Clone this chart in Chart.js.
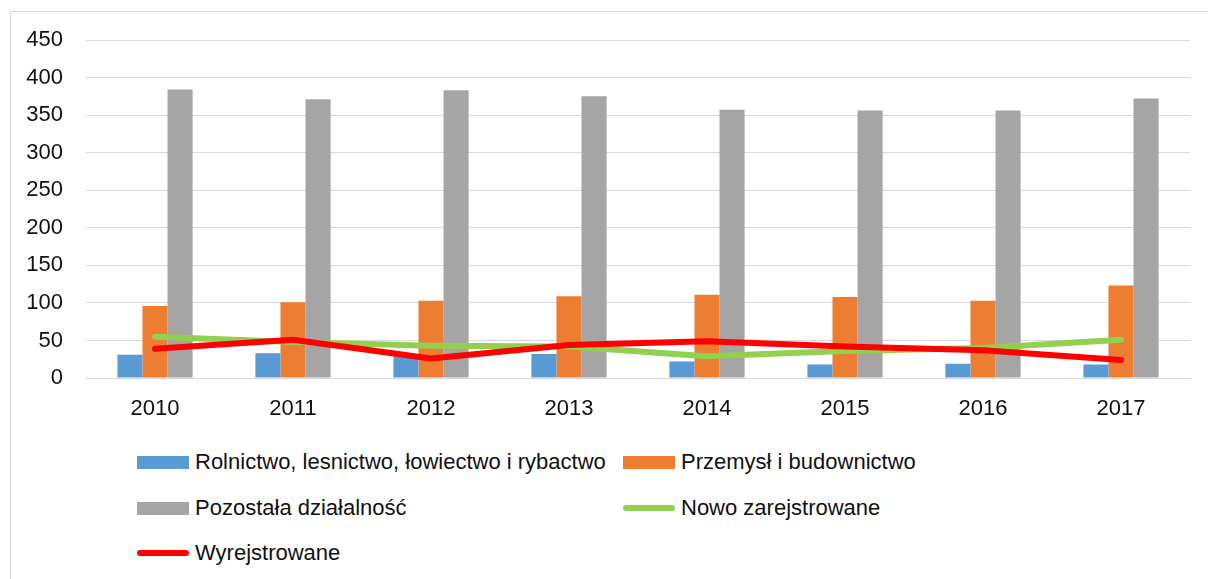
<!DOCTYPE html>
<html>
<head>
<meta charset="utf-8">
<script src="https://cdn.jsdelivr.net/npm/chart.js@4/dist/chart.umd.min.js"></script>
<style>
  html, body { margin: 0; padding: 0; background: #fff; overflow: hidden; }
  body { width: 1208px; height: 579px; position: relative; font-family: "Liberation Sans", Arial, sans-serif; }
  #frame { position: absolute; left: 10px; top: 11px; width: 1400px; height: 800px; border: 1px solid #d9d9d9; }
  #wrap { position: absolute; left: 0; top: 0; width: 1208px; height: 430px; }
  #legend { position: absolute; left: 0; top: 0; }
  .item { position: absolute; height: 30px; display: flex; align-items: center; font-size: 22px; color: #111; white-space: nowrap; }
  .sym { width: 52px; margin-right: 6px; }
</style>
</head>
<body>
<div id="frame"></div>
<div id="wrap"><canvas id="chart"></canvas></div>
<div id="legend"></div>
<script>
// data
const years = ['2010', '2011', '2012', '2013', '2014', '2015', '2016', '2017'];
const rolnictwo = [31, 33, 29, 32, 22, 18, 19, 18];
const przemysl = [96, 101, 103, 109, 111, 108, 103, 123];
const pozostala = [384, 371, 383, 375, 357, 356, 356, 372];
const nowo = [55, 48, 43, 42, 29, 36, 40, 51];
const wyrejestrowane = [39, 51, 26, 44, 49, 42, 37, 24];

const fontFamily = '"Liberation Sans", Arial, sans-serif';

const ctx = document.getElementById('chart').getContext('2d');
const chart = new Chart(ctx, {
  type: 'bar',
  data: {
    labels: years,
    datasets: [
      { label: 'Rolnictwo, lesnictwo, łowiectwo i rybactwo', data: rolnictwo, backgroundColor: '#5b9bd5', order: 2 },
      { label: 'Przemysł i budownictwo', data: przemysl, backgroundColor: '#ed7d31', order: 3 },
      { label: 'Pozostała działalność', data: pozostala, backgroundColor: '#a5a5a5', order: 4 },
      { type: 'line', label: 'Nowo zarejstrowane', data: nowo, borderColor: '#92d050', backgroundColor: '#92d050',
        borderWidth: 6, pointRadius: 0, tension: 0, borderCapStyle: 'round', borderJoinStyle: 'round', order: 1 },
      { type: 'line', label: 'Wyrejstrowane', data: wyrejestrowane, borderColor: '#ff0000', backgroundColor: '#ff0000',
        borderWidth: 6, pointRadius: 0, tension: 0, borderCapStyle: 'round', borderJoinStyle: 'round', order: 0 }
    ]
  },
  options: {
    responsive: true,
    maintainAspectRatio: false,
    animation: false,
    categoryPercentage: 0.545,
    barPercentage: 1,
    layout: { padding: { top: 40, right: 18, bottom: 0, left: 0 } },
    plugins: { legend: { display: false }, tooltip: { enabled: false } },
    scales: {
      x: {
        grid: { display: false, drawTicks: false },
        border: { display: true, color: '#d9d9d9', width: 1 },
        ticks: { color: '#111', padding: 18, font: { family: fontFamily, size: 22 } },
        afterFit: (scale) => { scale.height = 52; }
      },
      y: {
        min: 0,
        max: 450,
        ticks: { stepSize: 50, color: '#111', padding: 23, font: { family: fontFamily, size: 22 } },
        grid: { color: '#d9d9d9', lineWidth: 1, drawTicks: false },
        border: { display: false },
        afterFit: (scale) => { scale.width = 86; }
      }
    }
  }
});

// legend in two columns, built from the datasets
const legendPos = [[137, 462], [623, 462], [137, 508], [623, 508], [137, 553]];
const legendEl = document.getElementById('legend');
chart.data.datasets.forEach((ds, i) => {
  const item = document.createElement('div');
  item.className = 'item';
  item.style.left = legendPos[i][0] + 'px';
  item.style.top = (legendPos[i][1] - 15) + 'px';
  const sym = document.createElement('span');
  sym.className = 'sym';
  if (ds.type === 'line') {
    sym.style.height = '6px';
    sym.style.borderRadius = '3px';
    sym.style.background = ds.borderColor;
  } else {
    sym.style.height = '13px';
    sym.style.background = ds.backgroundColor;
  }
  const txt = document.createElement('span');
  txt.textContent = ds.label;
  item.appendChild(sym);
  item.appendChild(txt);
  legendEl.appendChild(item);
});
</script>
</body>
</html>
